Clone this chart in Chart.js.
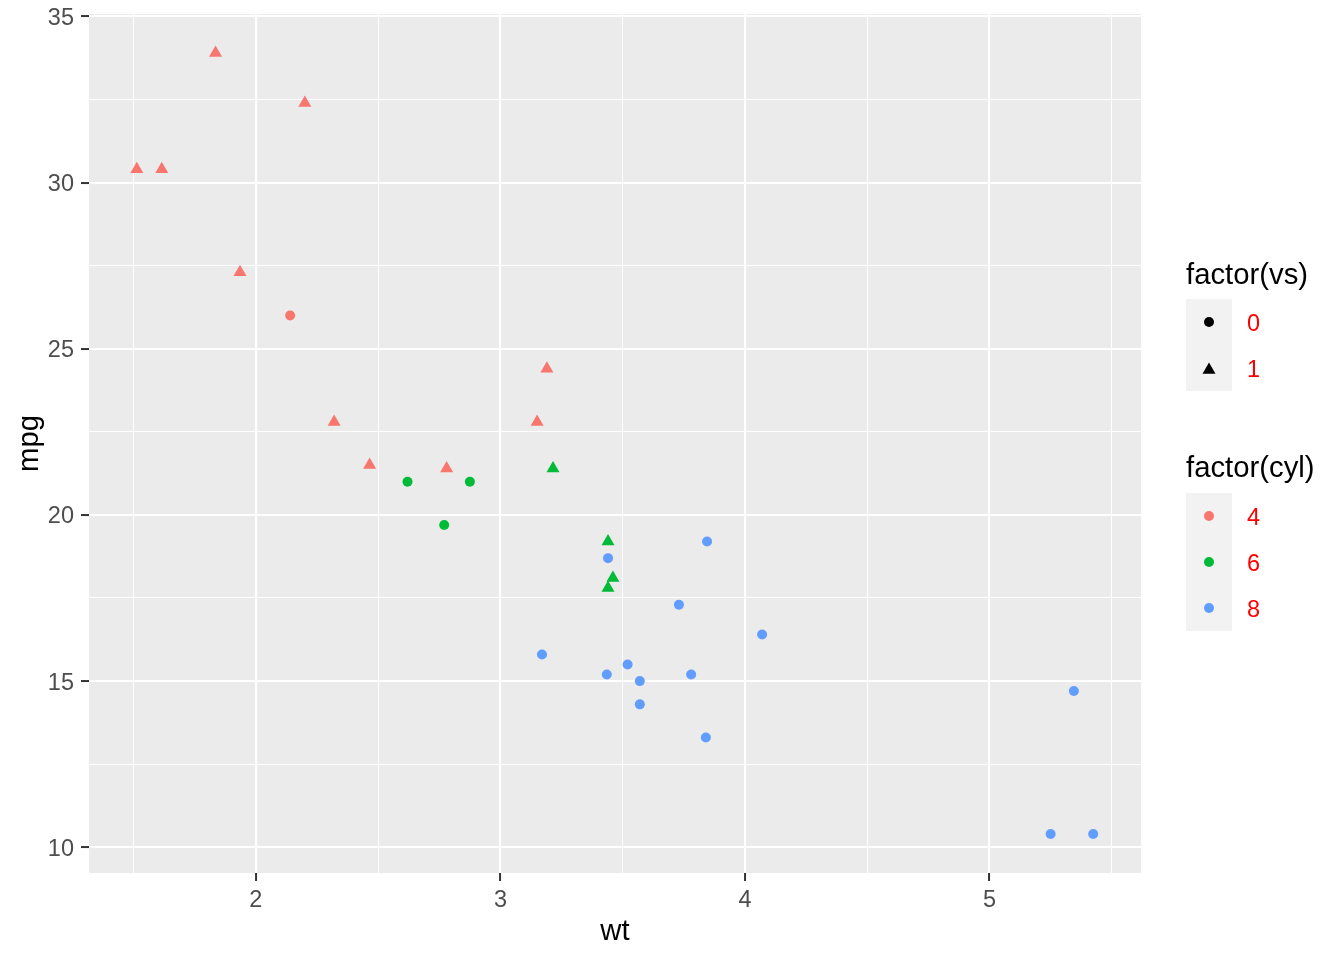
<!DOCTYPE html>
<html>
<head>
<meta charset="utf-8">
<script src="https://cdn.jsdelivr.net/npm/chart.js@4.4.1/dist/chart.umd.min.js"></script>
<style>
  html, body { margin: 0; padding: 0; background: #fff; }
  #wrap { position: relative; width: 1344px; height: 960px; font-family: "Liberation Sans", Arial, sans-serif; }
  #chart { position: absolute; left: 0; top: 0; }
  .lg-title { position: absolute; left: 1186px; font-size: 29.3px; color: #000; line-height: 1; white-space: nowrap; }
  .lg-box { position: absolute; left: 1186px; width: 46px; background: #F2F2F2; }
  .lg-key { position: absolute; left: 0; width: 46px; height: 46px; }
  .lg-key svg { position: absolute; left: 0; top: 0; }
  .lg-label { position: absolute; left: 1247px; font-size: 23.5px; color: #FF0000; line-height: 1; }
</style>
</head>
<body>
<div id="wrap">
  <canvas id="chart" width="1344" height="960"></canvas>
  <div id="legend"></div>
</div>
<script>
// mtcars: wt / mpg, colour by cyl, shape by vs
const wt  = [2.620, 2.875, 2.320, 3.215, 3.440, 3.460, 3.570, 3.190, 3.150, 3.440, 3.440,
             4.070, 3.730, 3.780, 5.250, 5.424, 5.345, 2.200, 1.615, 1.835, 2.465, 3.520,
             3.435, 3.840, 3.845, 1.935, 2.140, 1.513, 3.170, 2.770, 3.570, 2.780];
const mpg = [21.0, 21.0, 22.8, 21.4, 18.7, 18.1, 14.3, 24.4, 22.8, 19.2, 17.8,
             16.4, 17.3, 15.2, 10.4, 10.4, 14.7, 32.4, 30.4, 33.9, 21.5, 15.5,
             15.2, 13.3, 19.2, 27.3, 26.0, 30.4, 15.8, 19.7, 15.0, 21.4];
const cyl = [6, 6, 4, 6, 8, 6, 8, 4, 4, 6, 6,
             8, 8, 8, 8, 8, 8, 4, 4, 4, 4, 8,
             8, 8, 8, 4, 4, 4, 8, 6, 8, 4];
const vs  = [0, 0, 1, 1, 0, 1, 0, 1, 1, 1, 1,
             0, 0, 0, 0, 0, 0, 1, 1, 1, 1, 0,
             0, 0, 0, 1, 0, 1, 0, 0, 0, 1];

const cylLevels = [4, 6, 8];
const cylColors = ["#F8766D", "#00BA38", "#619CFF"];
const vsLevels = [0, 1];
const vsShapes = ["circle", "triangle"];

const xMajor = [2, 3, 4, 5];
const xMinor = [1.5, 2.5, 3.5, 4.5, 5.5];
const yMajor = [10, 15, 20, 25, 30, 35];
const yMinor = [12.5, 17.5, 22.5, 27.5, 32.5];

// ggplot style 5% expansion
const xLimits = [1.31745, 5.61955];
const yLimits = [9.225, 35.075];

const el = (id) => document.getElementById(id);

const points = wt.map((x, i) => ({ x, y: mpg[i] }));
const colorOf = (i) => cylColors[cylLevels.indexOf(cyl[i])];
const shapeOf = (i) => vsShapes[vsLevels.indexOf(vs[i])];

function allTicks(major, minor) {
  return major.concat(minor).sort((a, b) => a - b);
}

function gridScale(major, minor, limits) {
  const isMajor = (v) => major.includes(v);
  return {
    type: "linear",
    min: limits[0],
    max: limits[1],
    afterBuildTicks: (scale) => {
      scale.ticks = allTicks(major, minor).map(v => ({ value: v }));
    },
    grid: {
      color: "#FFFFFF",
      lineWidth: (c) => (c.tick && isMajor(c.tick.value) ? 2.1 : 1.05),
      tickColor: (c) => (c.tick && isMajor(c.tick.value) ? "#333333" : "rgba(0,0,0,0)"),
      tickWidth: 2,
      tickLength: 8,
      drawTicks: true
    },
    border: { display: false },
    ticks: {
      autoSkip: false,
      maxRotation: 0,
      color: "#4D4D4D",
      font: { family: "Liberation Sans", size: 23.5 },
      callback: (v) => (isMajor(v) ? String(v) : "")
    }
  };
}

const xScale = gridScale(xMajor, xMinor, xLimits);
xScale.ticks.padding = 5;
xScale.title = {
  display: true, text: "wt", color: "#000",
  font: { family: "Liberation Sans", size: 29.3 },
  padding: { top: 0, bottom: 11 }
};
xScale.afterFit = (s) => { s.height = 87; s.paddingLeft = 0; s.paddingRight = 0; };

const yScale = gridScale(yMajor, yMinor, yLimits);
yScale.ticks.padding = 7;
yScale.ticks.labelOffset = 2;
yScale.title = {
  display: true, text: "mpg", color: "#000",
  font: { family: "Liberation Sans", size: 29.3 },
  padding: { top: 12.4, bottom: 0 }
};
yScale.afterFit = (s) => { s.width = 89; s.paddingTop = 0; s.paddingBottom = 0; };

const panelBg = {
  id: "panelBg",
  beforeDraw(chart) {
    const { ctx, chartArea: a } = chart;
    ctx.save();
    ctx.fillStyle = "#EBEBEB";
    ctx.fillRect(a.left, a.top, a.right - a.left, a.bottom - a.top);
    ctx.restore();
  }
};

new Chart(el("chart").getContext("2d"), {
  type: "scatter",
  data: {
    datasets: [{
      data: points,
      pointStyle: (c) => shapeOf(c.dataIndex),
      pointRadius: (c) => (shapeOf(c.dataIndex) === "triangle" ? 7.5 : 5),
      pointBackgroundColor: (c) => colorOf(c.dataIndex),
      pointBorderWidth: 0,
      pointHoverRadius: (c) => (shapeOf(c.dataIndex) === "triangle" ? 7.5 : 5)
    }]
  },
  options: {
    responsive: false,
    animation: false,
    layout: { padding: { top: 14, right: 203, left: 0, bottom: 0 } },
    plugins: { legend: { display: false }, tooltip: { enabled: false } },
    scales: { x: xScale, y: yScale }
  },
  plugins: [panelBg]
});

// legends (HTML)
function svgShape(shape, color) {
  const body = shape === "triangle"
    ? `<polygon points="23,17.5 29.5,28.75 16.5,28.75" fill="${color}"/>`
    : `<circle cx="23" cy="23" r="5" fill="${color}"/>`;
  return `<svg width="46" height="46" viewBox="0 0 46 46">${body}</svg>`;
}

function buildLegend(title, titleTop, boxTop, keys) {
  let html = `<div class="lg-title" style="top:${titleTop}px">${title}</div>`;
  html += `<div class="lg-box" style="top:${boxTop}px;height:${keys.length * 46}px">`;
  keys.forEach((k, i) => {
    html += `<div class="lg-key" style="top:${i * 46}px">${svgShape(k.shape, k.color)}</div>`;
  });
  html += `</div>`;
  keys.forEach((k, i) => {
    html += `<div class="lg-label" style="top:${boxTop + i * 46 + 23 - 10}px">${k.label}</div>`;
  });
  return html;
}

el("legend").innerHTML =
  buildLegend("factor(vs)", 259, 299,
    vsLevels.map((v, i) => ({ label: String(v), shape: vsShapes[i], color: "#000" }))) +
  buildLegend("factor(cyl)", 452, 493,
    cylLevels.map((v, i) => ({ label: String(v), shape: "circle", color: cylColors[i] })));
</script>
</body>
</html>
